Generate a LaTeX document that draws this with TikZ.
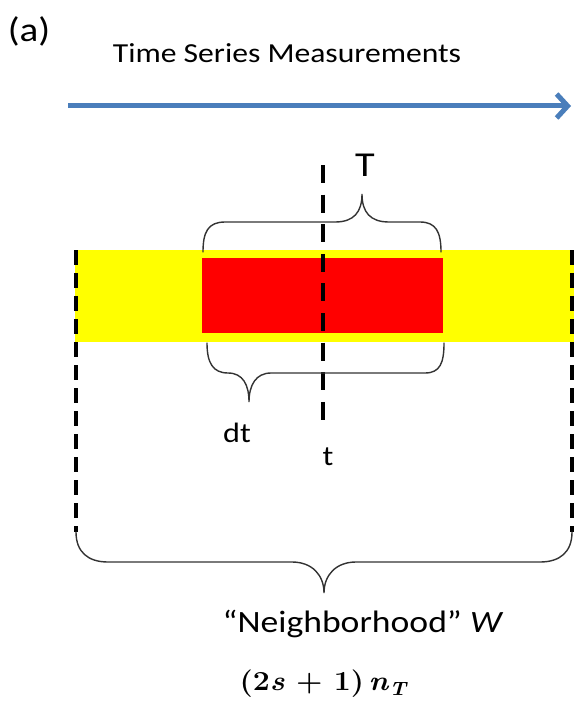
\documentclass[tikz,border=0pt]{standalone}
\usepackage[no-math]{fontspec}
\setmainfont{Carlito}[FakeStretch=1.15]
\newfontfamily\lmserif{Latin Modern Roman}[FakeStretch=1.1]
\usetikzlibrary{arrows.meta}
\definecolor{seriesblue}{RGB}{74,126,187}
\definecolor{bandyellow}{RGB}{255,255,0}
\definecolor{winred}{RGB}{255,0,0}

\begin{document}
\begin{tikzpicture}[x=1pt,y=-1pt]
		\tikzset{lbl/.style = {inner sep=0pt, font=\fontsize{28}{30}\selectfont}}
		\tikzset{cut/.style = {line width=3.5pt, dash pattern=on 15pt off 8pt}}
		\tikzset{brace/.style = {line width=1.4pt, draw=black!80, line cap=round}}

		\useasboundingbox (0,0) rectangle (574,706);

		\node[lbl, font=\fontsize{34}{36}\selectfont] (a) at (29,31) {(a)};
		\node[lbl, font=\fontsize{27.5}{30}\selectfont] (title) at (287,53) {Time Series Measurements};

		\coordinate (S) at (68,106);
		\coordinate (E) at (571,106);
		\draw[seriesblue, line width=5pt, -{Straight Barb[length=11pt,width=24pt]}] (S) -- (E);

		\fill[bandyellow] (75,250) rectangle (574,342);
		\fill[winred] (202,258) rectangle (443,333);

		\coordinate (L_1) at (76,250);
		\coordinate (L_2) at (76,532);
		\coordinate (R_1) at (572,250);
		\coordinate (R_2) at (572,532);
		\coordinate (C_1) at (323,165);
		\coordinate (C_2) at (323,430);

		\draw[cut] (L_1) -- (L_2);
		\draw[cut] (R_1) -- (R_2);
		\draw[cut, line width=4pt, dash pattern=on 18pt off 11.6pt] (C_1) -- (C_2);

		% window T
		\draw[brace] (203,252) .. controls (203,232) and (208,222) .. (225,222)
			-- (335,222) .. controls (354,222) and (362,212) .. (362,194)
			.. controls (362,212) and (370,222) .. (389,222)
			-- (420,222) .. controls (436,222) and (441,232) .. (441,252);
		\node[lbl, font=\fontsize{35}{37}\selectfont] (T) at (365,165) {T};

		% offset dt
		\draw[brace] (207,343) .. controls (207,363) and (213,373) .. (228,373)
			.. controls (243,373) and (249,385) .. (249,402)
			.. controls (249,385) and (256,373) .. (271,373)
			-- (425,373) .. controls (440,373) and (444,363) .. (444,343);
		\node[lbl] (dt) at (237,433) {dt};
		\node[lbl] (t) at (328,457) {t};

		% neighborhood
		\draw[brace] (L_2) .. controls (76,552) and (88,562) .. (108,562)
			-- (292,562) .. controls (312,562) and (324,575) .. (324,593)
			.. controls (324,575) and (336,562) .. (356,562)
			-- (540,562) .. controls (560,562) and (572,552) .. (R_2);
		\node[lbl, font=\fontsize{31}{33}\selectfont] (W) at (363,624) {“Neighborhood” \textit{W}};
		\node[lbl, font=\fontsize{27.5}{30}\selectfont\lmserif\bfseries] (size) at (324,684) {(2\textit{s} + 1)\,\textit{n}\textsubscript{\textit{T}}};

	\end{tikzpicture}
\end{document}
